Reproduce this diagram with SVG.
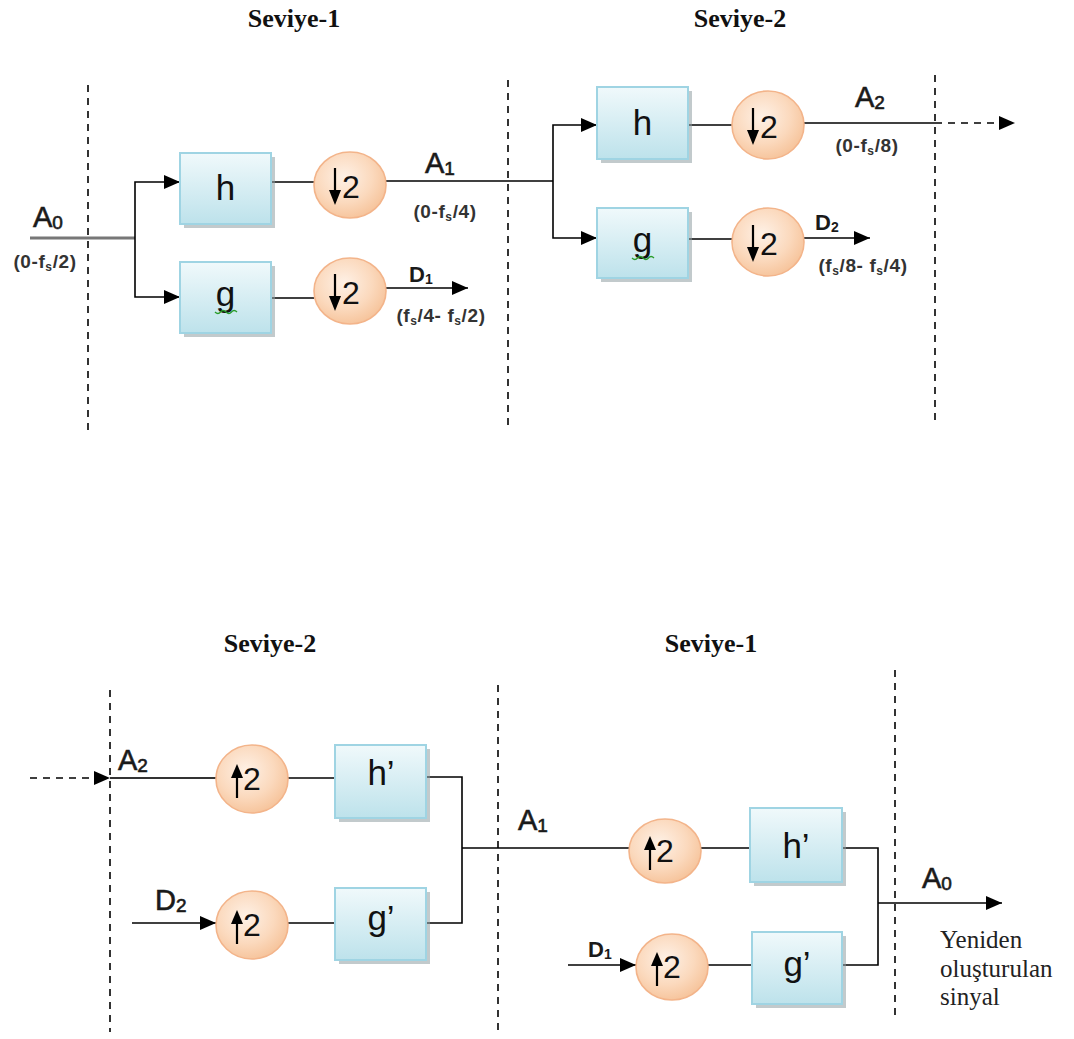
<svg xmlns="http://www.w3.org/2000/svg" xmlns:xlink="http://www.w3.org/1999/xlink" width="1074" height="1039" viewBox="0 0 1074 1039">
<defs>
<linearGradient id="boxg" x1="0" y1="0" x2="0" y2="1">
<stop offset="0" stop-color="#f0f9fb"/>
<stop offset="1" stop-color="#bde2eb"/>
</linearGradient>
<radialGradient id="circg" cx="0.42" cy="0.38" r="0.65">
<stop offset="0" stop-color="#fef1e6"/>
<stop offset="0.6" stop-color="#fbd9bd"/>
<stop offset="1" stop-color="#f6c39a"/>
</radialGradient>
<marker id="arr" markerWidth="16" markerHeight="14" refX="16" refY="7" orient="auto" markerUnits="userSpaceOnUse">
<path d="M0,0 L16,7 L0,14 z" fill="#000"/>
</marker>
<g id="down"><line x1="0" y1="-17" x2="0" y2="6" stroke="#000" stroke-width="2.2"/><path d="M-6,5 L6,5 L0,20 z" fill="#000"/></g>
<g id="up"><line x1="0" y1="19" x2="0" y2="-2" stroke="#000" stroke-width="2.2"/><path d="M-6,-1 L6,-1 L0,-15 z" fill="#000"/></g>
</defs>
<style>
.sh{fill:#8f9fa3;opacity:0.55}
.box{fill:url(#boxg);stroke:#9fd4e3;stroke-width:2}
.circ{fill:url(#circg);stroke:#f3b48a;stroke-width:1.6}
.bt{font-family:"Liberation Sans",Arial,sans-serif;font-size:35px;fill:#111;text-anchor:middle}
.two{font-family:"Liberation Sans",Arial,sans-serif;font-size:32px;fill:#111}
.lab{font-family:"Liberation Sans",Arial,sans-serif;font-size:29px;fill:#1a1a1a;stroke:#1a1a1a;stroke-width:0.6}
.labs{font-family:"Liberation Sans",Arial,sans-serif;font-size:22px;font-weight:bold;fill:#1a1a1a}
.fq{font-family:"Liberation Sans",Arial,sans-serif;font-size:19px;font-weight:bold;fill:#333;text-anchor:middle;letter-spacing:0.6px}
.sv{font-family:"Liberation Serif","Times New Roman",serif;font-size:26px;font-weight:bold;fill:#111;text-anchor:middle}
.yt{font-family:"Liberation Serif","Times New Roman",serif;font-size:25px;fill:#222}
.ln{stroke:#000;stroke-width:1.6;fill:none}
.dash{stroke:#000;stroke-width:1.6;stroke-dasharray:7,6;fill:none}
.sq{stroke:#2a9d2a;stroke-width:1.3;fill:none}
</style>

<!-- level titles -->
<text class="sv" x="294" y="27">Seviye-1</text>
<text class="sv" x="740" y="27">Seviye-2</text>
<text class="sv" x="270" y="652">Seviye-2</text>
<text class="sv" x="711" y="652">Seviye-1</text>

<!-- dashed separators -->
<g id="separators">
<line class="dash" x1="88" y1="85" x2="88" y2="432"/>
<line class="dash" x1="508" y1="80" x2="508" y2="427"/>
<line class="dash" x1="935" y1="75" x2="935" y2="422"/>
<line class="dash" x1="110" y1="690" x2="110" y2="1032"/>
<line class="dash" x1="498" y1="685" x2="498" y2="1032"/>
<line class="dash" x1="895" y1="670" x2="895" y2="1016"/>
</g>

<!-- connectors -->
<g id="connectors">
<line x1="30" y1="238" x2="135" y2="238" stroke="#777" stroke-width="3"/>
<path class="ln" d="M135,238 V182 H180" marker-end="url(#arr)"/>
<path class="ln" d="M135,238 V297 H180" marker-end="url(#arr)"/>
<line class="ln" x1="271" y1="182" x2="314" y2="182"/>
<line class="ln" x1="271" y1="298" x2="314" y2="298"/>
<path class="ln" d="M386,181 H553"/>
<path class="ln" d="M553,181 V125 H597" marker-end="url(#arr)"/>
<path class="ln" d="M553,181 V238 H597" marker-end="url(#arr)"/>
<line class="ln" x1="386" y1="288" x2="468" y2="288" marker-end="url(#arr)"/>
<line class="ln" x1="688" y1="125" x2="732" y2="125"/>
<line class="ln" x1="688" y1="239" x2="732" y2="239"/>
<line class="ln" x1="804" y1="123" x2="935" y2="123"/>
<line class="dash" x1="935" y1="123" x2="1000" y2="123"/>
<path d="M999,116 L1015,123 L999,130 z" fill="#000"/>
<line class="ln" x1="804" y1="238" x2="870" y2="238" marker-end="url(#arr)"/>

<line class="dash" x1="30" y1="778" x2="95" y2="778"/>
<path d="M94,771 L110,778 L94,785 z" fill="#000"/>
<line x1="110" y1="778" x2="217" y2="778" stroke="#333" stroke-width="2"/>
<line class="ln" x1="132" y1="923" x2="216" y2="923" marker-end="url(#arr)"/>
<line class="ln" x1="287" y1="778" x2="335" y2="778"/>
<line class="ln" x1="287" y1="923" x2="335" y2="923"/>
<path class="ln" d="M426,777 H462 V923 H426"/>
<line class="ln" x1="462" y1="848" x2="629" y2="848"/>
<line class="ln" x1="701" y1="848" x2="750" y2="848"/>
<line class="ln" x1="568" y1="965" x2="636" y2="965" marker-end="url(#arr)"/>
<line class="ln" x1="708" y1="965" x2="752" y2="965"/>
<path class="ln" d="M842,848 H878 V965 H842"/>
<line class="ln" x1="878" y1="903" x2="1002" y2="903" marker-end="url(#arr)"/>
</g>

<!-- top analysis nodes -->
<g id="h1">
<rect class="sh" x="184" y="157" width="91" height="71"/>
<rect class="box" x="180" y="153" width="91" height="71"/>
<text class="bt" x="225.5" y="200">h</text>
</g>
<g id="g1">
<rect class="sh" x="184" y="266" width="91" height="71"/>
<rect class="box" x="180" y="262" width="91" height="71"/>
<text class="bt" x="225.5" y="306">g</text>
<path class="sq" d="M215,312 q3,3 5.5,0 t5.5,0 t5.5,0 t5.5,0"/>
</g>
<g id="d1">
<ellipse class="circ" cx="350" cy="185" rx="36" ry="33"/>
<use xlink:href="#down" x="335" y="185"/>
<text class="two" x="342" y="198">2</text>
</g>
<g id="d2">
<ellipse class="circ" cx="350" cy="291" rx="36" ry="33"/>
<use xlink:href="#down" x="335" y="291"/>
<text class="two" x="342" y="304">2</text>
</g>
<g id="h2">
<rect class="sh" x="601" y="91" width="91" height="72"/>
<rect class="box" x="597" y="87" width="91" height="72"/>
<text class="bt" x="642.5" y="135">h</text>
</g>
<g id="g2">
<rect class="sh" x="601" y="212" width="91" height="70"/>
<rect class="box" x="597" y="208" width="91" height="70"/>
<text class="bt" x="642.5" y="252">g</text>
<path class="sq" d="M632,258 q3,3 5.5,0 t5.5,0 t5.5,0 t5.5,0"/>
</g>
<g id="d3">
<ellipse class="circ" cx="768" cy="125" rx="36" ry="34"/>
<use xlink:href="#down" x="753" y="125"/>
<text class="two" x="760" y="138">2</text>
</g>
<g id="d4">
<ellipse class="circ" cx="768" cy="242" rx="36" ry="34"/>
<use xlink:href="#down" x="753" y="242"/>
<text class="two" x="760" y="255">2</text>
</g>

<!-- top labels -->
<text class="lab" x="33" y="227">A<tspan font-size="19" dy="2">0</tspan></text>
<text class="fq" x="45" y="268">(0-f<tspan font-size="12" dy="3">s</tspan><tspan dy="-3">/2)</tspan></text>
<text class="lab" x="425" y="173">A<tspan font-size="19" dy="2">1</tspan></text>
<text class="fq" x="445" y="218">(0-f<tspan font-size="12" dy="3">s</tspan><tspan dy="-3">/4)</tspan></text>
<text class="labs" x="409" y="282">D<tspan font-size="14" dy="2">1</tspan></text>
<text class="fq" x="441" y="322">(f<tspan font-size="12" dy="3">s</tspan><tspan dy="-3">/4- f</tspan><tspan font-size="12" dy="3">s</tspan><tspan dy="-3">/2)</tspan></text>
<text class="lab" x="855" y="107">A<tspan font-size="19" dy="2">2</tspan></text>
<text class="fq" x="867" y="152">(0-f<tspan font-size="12" dy="3">s</tspan><tspan dy="-3">/8)</tspan></text>
<text class="labs" x="815" y="230">D<tspan font-size="14" dy="2">2</tspan></text>
<text class="fq" x="863" y="272">(f<tspan font-size="12" dy="3">s</tspan><tspan dy="-3">/8- f</tspan><tspan font-size="12" dy="3">s</tspan><tspan dy="-3">/4)</tspan></text>

<!-- bottom synthesis nodes -->
<g id="u1">
<ellipse class="circ" cx="252" cy="779" rx="36" ry="34"/>
<use xlink:href="#up" x="237" y="779"/>
<text class="two" x="243" y="790">2</text>
</g>
<g id="u2">
<ellipse class="circ" cx="252" cy="925" rx="36" ry="34"/>
<use xlink:href="#up" x="237" y="925"/>
<text class="two" x="243" y="936">2</text>
</g>
<g id="hp1">
<rect class="sh" x="339" y="749" width="91" height="73"/>
<rect class="box" x="335" y="745" width="91" height="73"/>
<text class="bt" x="381" y="785">h’</text>
</g>
<g id="gp1">
<rect class="sh" x="339" y="892" width="91" height="72"/>
<rect class="box" x="335" y="888" width="91" height="72"/>
<text class="bt" x="381" y="930">g’</text>
</g>
<g id="u3">
<ellipse class="circ" cx="665" cy="851" rx="36" ry="32"/>
<use xlink:href="#up" x="650" y="851"/>
<text class="two" x="656" y="862">2</text>
</g>
<g id="u4">
<ellipse class="circ" cx="672" cy="967" rx="36" ry="33"/>
<use xlink:href="#up" x="657" y="967"/>
<text class="two" x="663" y="978">2</text>
</g>
<g id="hp2">
<rect class="sh" x="754" y="812" width="92" height="74"/>
<rect class="box" x="750" y="808" width="92" height="74"/>
<text class="bt" x="796" y="858">h’</text>
</g>
<g id="gp2">
<rect class="sh" x="756" y="936" width="90" height="72"/>
<rect class="box" x="752" y="932" width="90" height="72"/>
<text class="bt" x="797" y="976">g’</text>
</g>

<!-- bottom labels -->
<text class="lab" x="118" y="770">A<tspan font-size="19" dy="2">2</tspan></text>
<text class="lab" x="155" y="910">D<tspan font-size="19" dy="2">2</tspan></text>
<text class="lab" x="518" y="830">A<tspan font-size="19" dy="2">1</tspan></text>
<text class="labs" x="588" y="957">D<tspan font-size="14" dy="2">1</tspan></text>
<text class="lab" x="922" y="888">A<tspan font-size="19" dy="2">0</tspan></text>
<text class="yt" x="940" y="948">Yeniden</text>
<text class="yt" x="940" y="977">oluşturulan</text>
<text class="yt" x="940" y="1005">sinyal</text>
</svg>
